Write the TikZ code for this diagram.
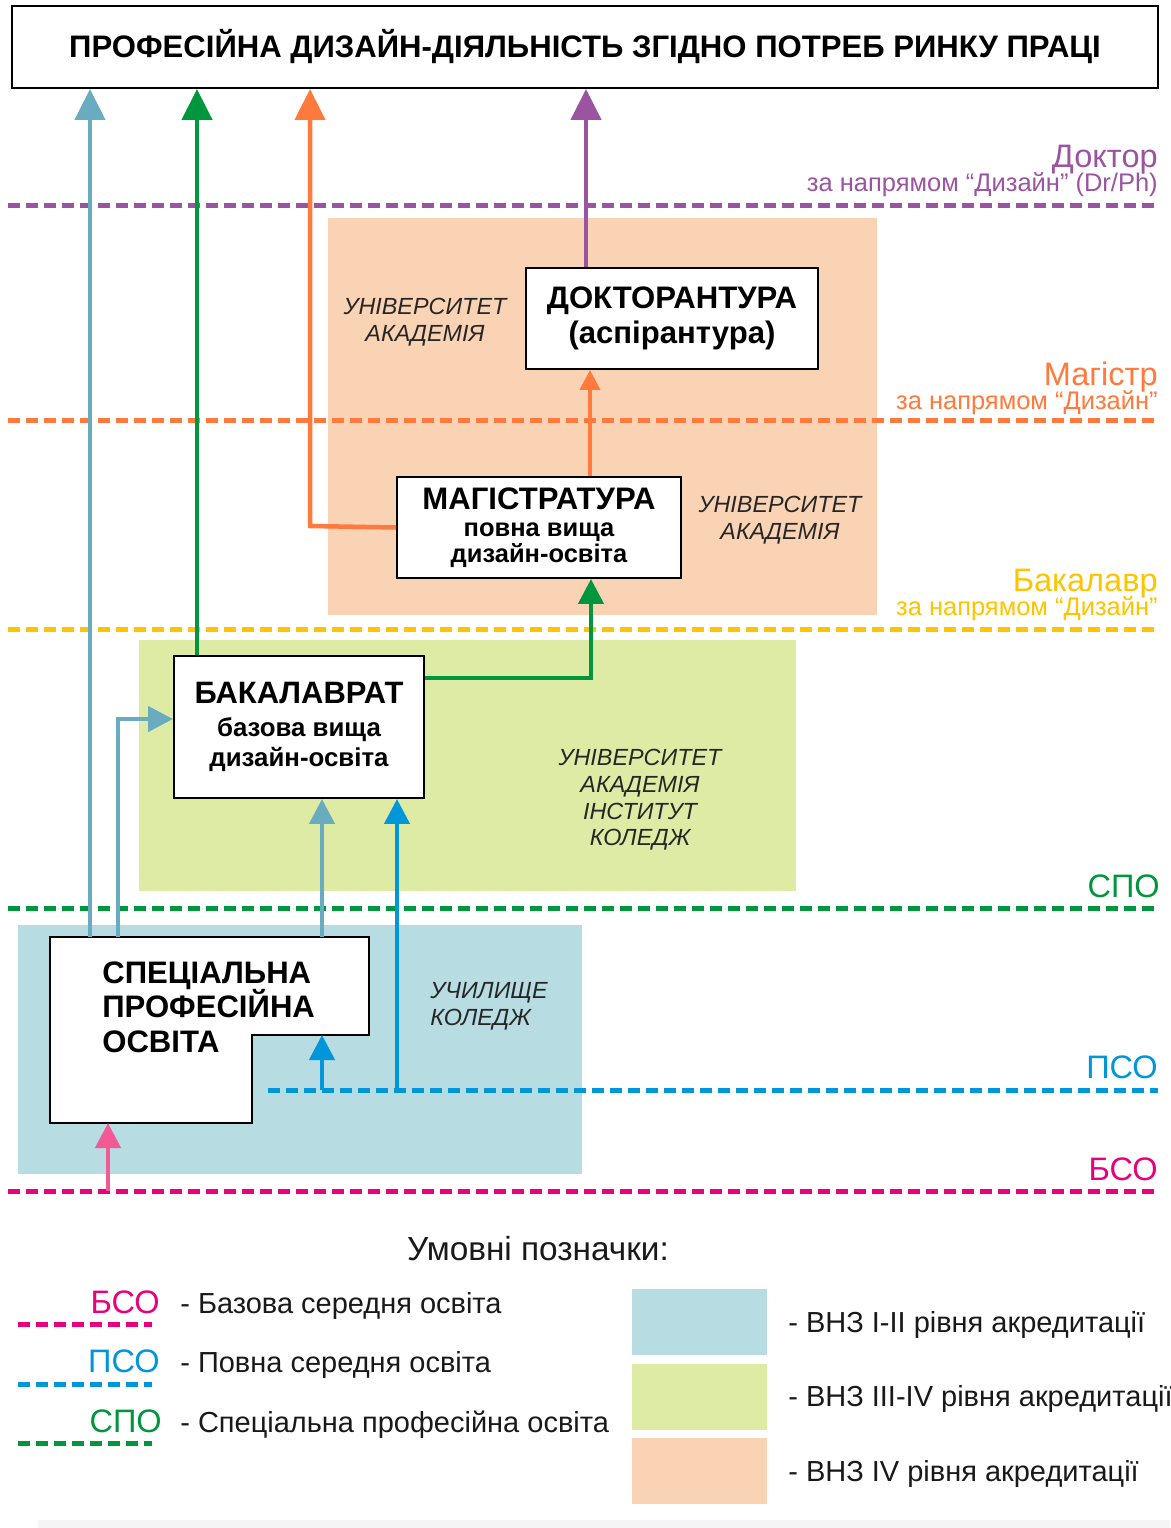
\documentclass[tikz,border=0pt]{standalone}
\usepackage{fontspec}
\setmainfont{Liberation Sans}
\usepackage{tikz}
\usetikzlibrary{arrows.meta, positioning, calc}
\definecolor{docpurple}{RGB}{155,85,160}
\definecolor{magorange}{RGB}{255,122,60}
\definecolor{bakyellow}{RGB}{255,196,0}
\definecolor{spogreen}{RGB}{0,150,62}
\definecolor{psoblue}{RGB}{0,150,218}
\definecolor{bsopink}{RGB}{232,0,125}
\definecolor{arrpink}{RGB}{242,90,150}
\definecolor{arrteal}{RGB}{105,172,192}
\definecolor{zonepeach}{RGB}{250,210,180}
\definecolor{zonelime}{RGB}{222,235,165}
\definecolor{zoneblue}{RGB}{183,220,226}
\newcommand{\fsz}[2]{\fontsize{#1pt}{#2pt}\selectfont}

\begin{document}
\begin{tikzpicture}[x=0.02cm, y=-0.02cm,
    box/.style={rectangle, draw=black, line width=0.04cm, fill=white, align=center, inner sep=0pt},
    level/.style={line width=0.1cm, dash pattern=on 0.24cm off 0.12cm},
    flow/.style={line width=0.09cm, -{Triangle[length=0.62cm, width=0.6cm]}},
    flowmid/.style={line width=0.09cm, -{Triangle[length=0.5cm, width=0.5cm]}},
    flowsm/.style={line width=0.08cm, -{Triangle[length=0.4cm, width=0.4cm]}},
    zonetext/.style={align=center, inner sep=0pt, font=\fsz{13.3}{15.2}\itshape, text=black!85},
    lvlbig/.style={anchor=base east, inner sep=0pt, font=\fsz{18.5}{20}},
    lvlsmall/.style={anchor=base east, inner sep=0pt, font=\fsz{14.5}{15}},
    legtext/.style={anchor=base west, inner sep=0pt, font=\fsz{16.5}{18}, text=black!90}
]
\useasboundingbox (0,0) rectangle (1170,1528);
\fill[white] (0,0) rectangle (1170,1528);

\fill[zonepeach] (328,218) rectangle (877,615);
\fill[zonelime] (139,640) rectangle (796,891);
\fill[zoneblue] (18,925) rectangle (582,1174);
\fill[black!4] (38,1520) rectangle (1170,1528);

\draw[level, docpurple] (8,205) -- (1158,205);
\draw[level, magorange] (8,420) -- (1158,420);
\draw[level, bakyellow] (8,629) -- (1158,629);
\draw[level, spogreen] (8,908) -- (1158,908);
\draw[level, psoblue] (268,1090) -- (1158,1090);
\draw[level, bsopink] (8,1191) -- (1158,1191);

\node[lvlbig, text=docpurple] (docbig) at (1158,167) {Доктор};
\node[lvlsmall, text=docpurple] (docsmall) at (1158,191) {за напрямом “Дизайн” (Dr/Ph)};
\node[lvlbig, text=magorange] (magbig) at (1158,385) {Магістр};
\node[lvlsmall, text=magorange] (magsmall) at (1158,409) {за напрямом “Дизайн”};
\node[lvlbig, text=bakyellow] (bakbig) at (1158,591) {Бакалавр};
\node[lvlsmall, text=bakyellow] (baksmall) at (1158,615) {за напрямом “Дизайн”};
\node[lvlbig, text=spogreen] (spolab) at (1160,897) {СПО};
\node[lvlbig, text=psoblue] (psolab) at (1158,1078) {ПСО};
\node[lvlbig, text=bsopink] (bsolab) at (1158,1180) {БСО};

\node[zonetext] (zdoc) at (425,322) {УНІВЕРСИТЕТ\\АКАДЕМІЯ};
\node[zonetext] (zmag) at (780,520) {УНІВЕРСИТЕТ\\АКАДЕМІЯ};
\node[zonetext] (zbak) at (640,800) {УНІВЕРСИТЕТ\\АКАДЕМІЯ\\ІНСТИТУТ\\КОЛЕДЖ};
\node[zonetext, align=left, anchor=west] (zspec) at (430,1006) {УЧИЛИЩЕ\\КОЛЕДЖ};

\node[box, minimum width=22.92cm, minimum height=1.64cm, font=\fsz{17.7}{19}\bfseries] (title) at (585,47)
    {ПРОФЕСІЙНА ДИЗАЙН-ДІЯЛЬНІСТЬ ЗГІДНО ПОТРЕБ РИНКУ ПРАЦІ};
\node[box, minimum width=5.84cm, minimum height=2.02cm, font=\fsz{17.7}{19.8}\bfseries] (doc) at (672,318.5)
    {ДОКТОРАНТУРА\\(аспірантура)};
\node[box, minimum width=5.68cm, minimum height=2.02cm, font=\fsz{14.5}{12.8}\bfseries] (mag) at (539,527.5)
    {{\fsz{17.7}{12.8}\bfseries МАГІСТРАТУРА}\\[2.5pt]повна вища\\дизайн-освіта};
\node[box, minimum width=5cm, minimum height=2.84cm, font=\fsz{14.7}{17}\bfseries] (bak) at (299,727)
    {{\fsz{17.6}{17}\bfseries БАКАЛАВРАТ}\\[2pt]базова вища\\дизайн-освіта};

\coordinate (specNW) at (50,937);
\coordinate (specNE) at (369,937);
\coordinate (notch) at (369,1035);
\coordinate (notchin) at (252,1035);
\coordinate (specSE) at (252,1123);
\coordinate (specSW) at (50,1123);
\draw[line width=0.04cm, fill=white] (specNW) -- (specNE) -- (notch) -- (notchin) -- (specSE) -- (specSW) -- cycle;
\node[anchor=north west, align=left, inner sep=0pt, font=\fsz{17.7}{19.8}\bfseries] (spec) at (102,961)
    {СПЕЦІАЛЬНА\\ПРОФЕСІЙНА\\ОСВІТА};

\coordinate (sA) at (90,937);
\coordinate (sB) at (118,937);
\coordinate (sC) at (322,937);
\coordinate (pA) at (322,1090);
\coordinate (pB) at (397,1090);
\coordinate (bA) at (108,1191);
\coordinate (gA) at ([xshift=0.48cm]bak.north west);
\coordinate (gB) at ([yshift=-0.46cm]bak.north east);
\coordinate (mS) at ([xshift=1.04cm]mag.south);
\coordinate (oX) at (310,526);
\coordinate (mN) at ([xshift=1.02cm]mag.north);
\coordinate (dN) at ([xshift=-1.72cm]doc.north);

\draw[flow, arrteal] (sA) -- (sA |- title.south);
\draw[flowmid, arrteal] (sB) |- ([yshift=0.16cm]bak.west);
\draw[flowmid, arrteal] (sC) -- (sC |- bak.south);
\draw[flowmid, psoblue] (pB) -- (pB |- bak.south);
\draw[flowmid, psoblue] (pA) -- (pA |- notchin);
\draw[flowmid, arrpink] (bA) -- (bA |- specSW);
\draw[flow, spogreen] (gA) -- (gA |- title.south);
\draw[flowmid, spogreen] (gB) -| (mS);
\draw[flow, magorange] (mag.west) -- (oX) -- (oX |- title.south);
\draw[flowsm, magorange] (mN) -- (mN |- doc.south);
\draw[flow, docpurple] (dN) -- (dN |- title.south);

\node[anchor=base, inner sep=0pt, font=\fsz{19}{21}, text=black!90] (legend) at (538,1260) {Умовні позначки:};

\node[lvlbig, text=bsopink] (lgbso) at (160,1313) {БСО};
\draw[level, bsopink] (18,1324) -- (152,1324);
\node[legtext] (lgbsotext) at (180,1313) {- Базова середня освіта};
\node[lvlbig, text=psoblue] (lgpso) at (160,1372) {ПСО};
\draw[level, psoblue] (18,1384) -- (152,1384);
\node[legtext] (lgpsotext) at (180,1372) {- Повна середня освіта};
\node[lvlbig, text=spogreen] (lgspo) at (162,1432) {СПО};
\draw[level, spogreen] (18,1443) -- (152,1443);
\node[legtext] (lgspotext) at (180,1432) {- Спеціальна професійна освіта};

\fill[zoneblue] (632,1289) rectangle (767,1355);
\node[legtext] (lgzblue) at (788,1332) {- ВНЗ I-II рівня акредитації};
\fill[zonelime] (632,1364) rectangle (767,1430);
\node[legtext] (lgzlime) at (788,1406) {- ВНЗ III-IV рівня акредитації};
\fill[zonepeach] (632,1438) rectangle (767,1504);
\node[legtext] (lgzpeach) at (788,1481) {- ВНЗ IV рівня акредитації};
\end{tikzpicture}
\end{document}
